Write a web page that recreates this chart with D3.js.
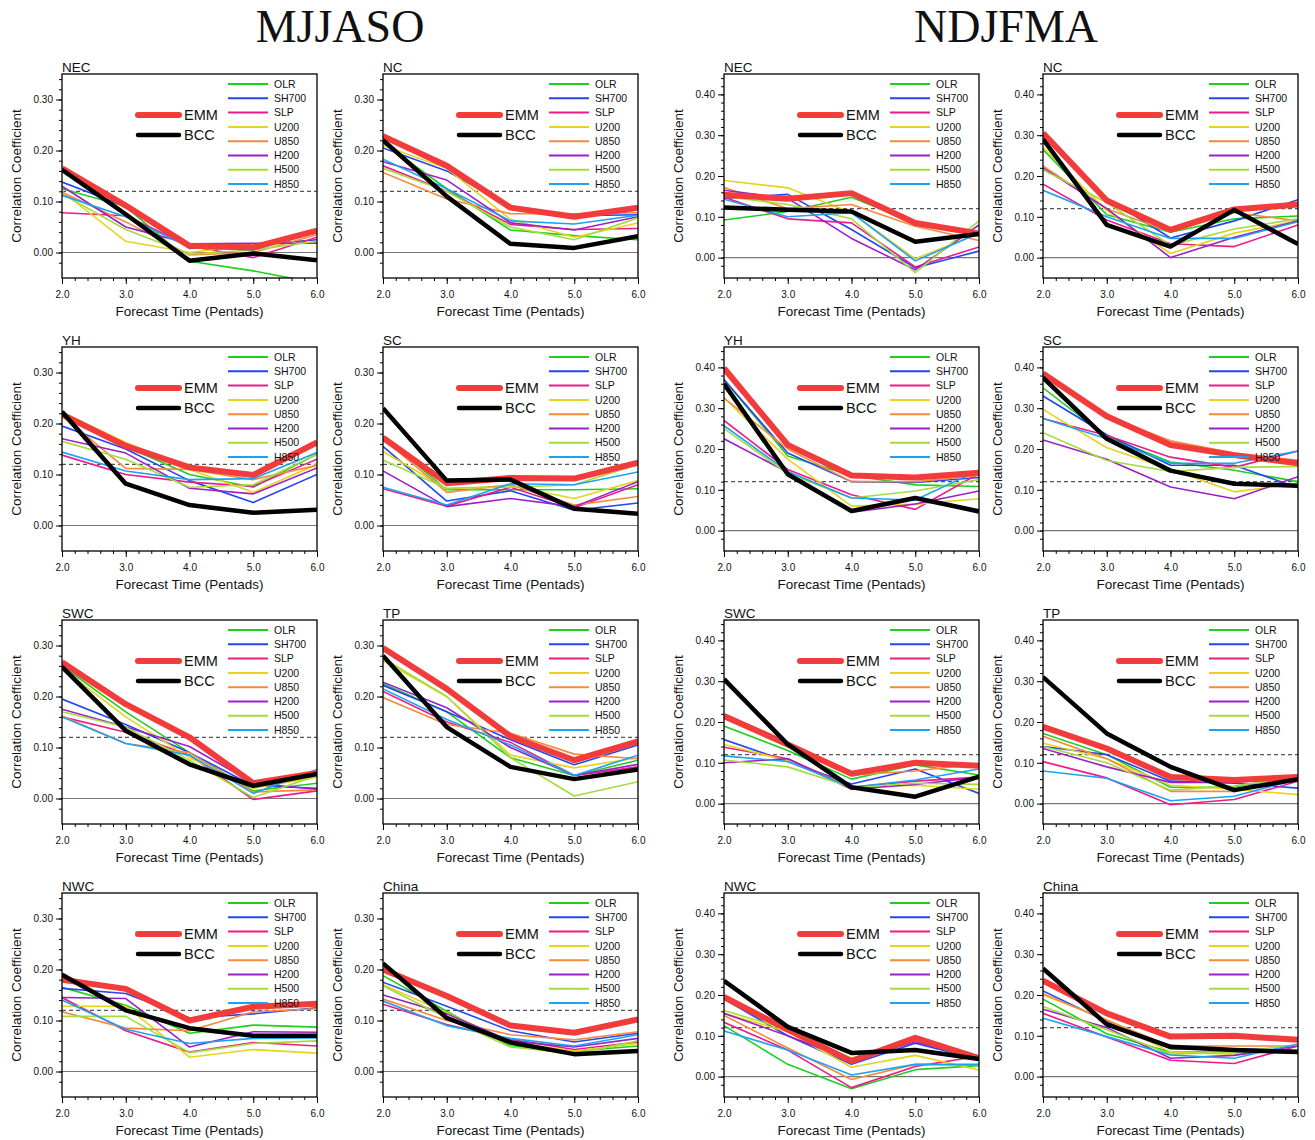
<!DOCTYPE html>
<html>
<head>
<meta charset="utf-8">
<script src="https://cdn.jsdelivr.net/npm/d3@7"></script>
<style>
  body { margin: 0; background: #fff; }
  svg text { font-family: "Liberation Sans", Arial, Helvetica, sans-serif; fill: #111; }
  .season { font-family: "Liberation Serif", "Times New Roman", serif; font-size: 46px; }
</style>
</head>
<body>
<div id="chart"></div>
<script>
(function(d3) {
  "use strict";

  // x values (pentads) and series
  var xVals = [2, 3, 4, 5, 6];
  var seriesNames = ["OLR", "SH700", "SLP", "U200", "U850", "H200", "H500", "H850", "EMM", "BCC"];
  var seriesColors = ["#1fcf1f", "#2346f0", "#ee1a8a", "#e6d31e", "#f58a3c", "#9b20c8", "#a2dd3c", "#1ca2f0", "#f23b3b", "#000000"];
  var seasons = ["MJJASO", "NDJFMA"];
  var regions = ["NEC", "NC", "YH", "SC", "SWC", "TP", "NWC", "China"];
  var yDomains = [[-0.05, 0.35], [-0.05, 0.45]];
  var yTickVals = [[0, 0.1, 0.2, 0.3], [0, 0.1, 0.2, 0.3, 0.4]];
  var threshold = 0.12;

  // rows: OLR, SH700, SLP, U200, U850, H200, H500, H850, EMM, BCC
  var MJJASO_NEC = [
    [0.125, 0.090, -0.017, -0.036, -0.060],
    [0.138, 0.090, 0.008, 0.015, 0.025],
    [0.078, 0.072, 0.013, -0.010, 0.030],
    [0.120, 0.022, 0.000, 0.015, 0.020],
    [0.118, 0.060, -0.005, 0.000, 0.035],
    [0.130, 0.050, 0.017, 0.018, 0.018],
    [0.115, 0.045, -0.003, 0.005, 0.022],
    [0.112, 0.070, 0.010, 0.005, 0.040],
    [0.165, 0.092, 0.013, 0.010, 0.043],
    [0.162, 0.075, -0.016, -0.002, -0.015]
  ];
  var MJJASO_NC = [
    [0.215, 0.125, 0.044, 0.033, 0.025],
    [0.205, 0.160, 0.090, 0.072, 0.074],
    [0.170, 0.120, 0.055, 0.045, 0.047],
    [0.210, 0.165, 0.065, 0.030, 0.058],
    [0.157, 0.105, 0.076, 0.076, 0.078],
    [0.178, 0.142, 0.058, 0.044, 0.070],
    [0.165, 0.120, 0.050, 0.025, 0.068],
    [0.183, 0.125, 0.062, 0.056, 0.073],
    [0.228, 0.170, 0.088, 0.070, 0.088],
    [0.220, 0.110, 0.017, 0.009, 0.032]
  ];
  var MJJASO_YH = [
    [0.220, 0.155, 0.100, 0.075, 0.140],
    [0.195, 0.150, 0.088, 0.045, 0.100],
    [0.138, 0.100, 0.085, 0.077, 0.130],
    [0.222, 0.163, 0.110, 0.065, 0.120],
    [0.215, 0.112, 0.110, 0.090, 0.118],
    [0.170, 0.142, 0.073, 0.062, 0.113],
    [0.165, 0.130, 0.075, 0.080, 0.140],
    [0.144, 0.107, 0.090, 0.092, 0.143],
    [0.218, 0.156, 0.114, 0.099, 0.163],
    [0.223, 0.082, 0.040, 0.025, 0.031]
  ];
  var MJJASO_SC = [
    [0.175, 0.070, 0.070, 0.070, 0.072],
    [0.155, 0.048, 0.068, 0.030, 0.044],
    [0.072, 0.038, 0.075, 0.035, 0.080],
    [0.145, 0.072, 0.078, 0.053, 0.088],
    [0.170, 0.065, 0.080, 0.040, 0.057],
    [0.107, 0.037, 0.053, 0.037, 0.086],
    [0.128, 0.073, 0.075, 0.080, 0.120],
    [0.075, 0.040, 0.082, 0.080, 0.105],
    [0.172, 0.083, 0.093, 0.092, 0.123],
    [0.230, 0.088, 0.090, 0.033, 0.023]
  ];
  var MJJASO_SWC = [
    [0.260, 0.170, 0.090, 0.015, 0.030],
    [0.195, 0.145, 0.090, 0.025, 0.020],
    [0.160, 0.130, 0.085, -0.002, 0.015],
    [0.255, 0.160, 0.080, 0.020, 0.042],
    [0.162, 0.108, 0.090, 0.013, 0.017],
    [0.175, 0.140, 0.102, 0.030, 0.018],
    [0.170, 0.140, 0.075, 0.002, 0.045],
    [0.160, 0.108, 0.085, 0.010, 0.057],
    [0.267, 0.185, 0.120, 0.030, 0.050],
    [0.258, 0.133, 0.067, 0.025, 0.048]
  ];
  var MJJASO_TP = [
    [0.225, 0.170, 0.080, 0.045, 0.075],
    [0.222, 0.170, 0.115, 0.066, 0.105],
    [0.210, 0.150, 0.110, 0.045, 0.062],
    [0.270, 0.200, 0.085, 0.060, 0.080],
    [0.198, 0.145, 0.128, 0.087, 0.078],
    [0.228, 0.178, 0.100, 0.045, 0.067],
    [0.275, 0.200, 0.080, 0.005, 0.033],
    [0.215, 0.155, 0.105, 0.045, 0.085],
    [0.295, 0.215, 0.122, 0.075, 0.112],
    [0.280, 0.140, 0.062, 0.038, 0.057]
  ];
  var MJJASO_NWC = [
    [0.165, 0.130, 0.075, 0.091, 0.087],
    [0.163, 0.153, 0.105, 0.113, 0.125],
    [0.145, 0.080, 0.038, 0.057, 0.050],
    [0.128, 0.128, 0.028, 0.043, 0.036],
    [0.117, 0.085, 0.080, 0.117, 0.123],
    [0.145, 0.143, 0.048, 0.078, 0.077],
    [0.108, 0.108, 0.037, 0.055, 0.060],
    [0.140, 0.083, 0.055, 0.065, 0.066],
    [0.180, 0.162, 0.100, 0.127, 0.133],
    [0.190, 0.120, 0.085, 0.070, 0.070]
  ];
  var MJJASO_China = [
    [0.188, 0.118, 0.050, 0.040, 0.050],
    [0.175, 0.128, 0.080, 0.058, 0.075],
    [0.132, 0.092, 0.063, 0.043, 0.058],
    [0.170, 0.115, 0.058, 0.040, 0.055],
    [0.142, 0.100, 0.072, 0.062, 0.078],
    [0.150, 0.113, 0.060, 0.048, 0.065],
    [0.168, 0.105, 0.048, 0.035, 0.060],
    [0.138, 0.090, 0.065, 0.050, 0.072],
    [0.200, 0.148, 0.090, 0.076, 0.102],
    [0.212, 0.105, 0.057, 0.034, 0.040]
  ];
  var NDJFMA_NEC = [
    [0.092, 0.113, 0.148, 0.085, 0.056],
    [0.145, 0.155, 0.069, -0.025, 0.016],
    [0.148, 0.095, 0.085, -0.023, 0.026],
    [0.189, 0.171, 0.110, -0.003, 0.060],
    [0.172, 0.120, 0.130, 0.077, 0.042],
    [0.165, 0.145, 0.047, -0.030, 0.080],
    [0.150, 0.130, 0.095, -0.037, 0.090],
    [0.143, 0.100, 0.110, -0.008, 0.060],
    [0.154, 0.144, 0.158, 0.085, 0.059],
    [0.123, 0.117, 0.113, 0.039, 0.058]
  ];
  var NDJFMA_NC = [
    [0.265, 0.105, 0.062, 0.095, 0.102],
    [0.298, 0.145, 0.048, 0.090, 0.142],
    [0.180, 0.092, 0.034, 0.027, 0.080],
    [0.270, 0.115, 0.010, 0.060, 0.090],
    [0.225, 0.120, 0.063, 0.110, 0.090],
    [0.220, 0.120, 0.000, 0.050, 0.090],
    [0.215, 0.135, 0.030, 0.070, 0.095],
    [0.165, 0.100, 0.047, 0.047, 0.088],
    [0.305, 0.140, 0.068, 0.118, 0.130],
    [0.290, 0.080, 0.027, 0.117, 0.033]
  ];
  var NDJFMA_YH = [
    [0.370, 0.183, 0.135, 0.112, 0.108],
    [0.370, 0.190, 0.120, 0.118, 0.130],
    [0.270, 0.150, 0.088, 0.052, 0.140],
    [0.325, 0.175, 0.060, 0.065, 0.078],
    [0.325, 0.200, 0.120, 0.120, 0.135],
    [0.225, 0.143, 0.045, 0.065, 0.097],
    [0.250, 0.140, 0.080, 0.097, 0.125],
    [0.257, 0.145, 0.080, 0.075, 0.148],
    [0.398, 0.210, 0.135, 0.130, 0.142],
    [0.360, 0.138, 0.048, 0.080, 0.047]
  ];
  var NDJFMA_SC = [
    [0.350, 0.230, 0.168, 0.148, 0.120],
    [0.330, 0.235, 0.160, 0.160, 0.105],
    [0.275, 0.233, 0.180, 0.155, 0.195],
    [0.297, 0.203, 0.150, 0.095, 0.115],
    [0.380, 0.280, 0.220, 0.190, 0.172],
    [0.222, 0.175, 0.107, 0.078, 0.132],
    [0.240, 0.172, 0.145, 0.155, 0.157],
    [0.275, 0.225, 0.165, 0.165, 0.195],
    [0.385, 0.280, 0.210, 0.185, 0.165],
    [0.375, 0.225, 0.147, 0.115, 0.110]
  ];
  var NDJFMA_SWC = [
    [0.190, 0.130, 0.060, 0.095, 0.070],
    [0.157, 0.103, 0.048, 0.085, 0.025],
    [0.138, 0.110, 0.040, 0.055, 0.065],
    [0.145, 0.105, 0.040, 0.045, 0.035],
    [0.208, 0.140, 0.070, 0.080, 0.098],
    [0.100, 0.110, 0.035, 0.047, 0.065],
    [0.107, 0.090, 0.040, 0.050, 0.047],
    [0.117, 0.103, 0.040, 0.058, 0.085],
    [0.215, 0.145, 0.073, 0.100, 0.093],
    [0.305, 0.145, 0.040, 0.017, 0.066]
  ];
  var NDJFMA_TP = [
    [0.172, 0.120, 0.040, 0.040, 0.070],
    [0.140, 0.120, 0.055, 0.050, 0.038],
    [0.103, 0.063, -0.003, 0.010, 0.055],
    [0.148, 0.110, 0.045, 0.035, 0.022],
    [0.165, 0.110, 0.030, 0.030, 0.065],
    [0.135, 0.090, 0.052, 0.052, 0.065],
    [0.140, 0.100, 0.033, 0.043, 0.065],
    [0.080, 0.062, 0.007, 0.018, 0.060],
    [0.188, 0.135, 0.065, 0.058, 0.065],
    [0.310, 0.172, 0.090, 0.033, 0.060]
  ];
  var NDJFMA_NWC = [
    [0.125, 0.030, -0.030, 0.017, 0.027],
    [0.190, 0.100, 0.030, 0.082, 0.042],
    [0.133, 0.065, -0.027, 0.025, 0.050],
    [0.155, 0.110, 0.023, 0.052, 0.016],
    [0.150, 0.070, -0.007, 0.030, 0.028],
    [0.155, 0.100, 0.040, 0.085, 0.048],
    [0.162, 0.115, 0.045, 0.090, 0.050],
    [0.112, 0.065, 0.004, 0.030, 0.030],
    [0.195, 0.115, 0.038, 0.095, 0.045],
    [0.235, 0.122, 0.058, 0.065, 0.043]
  ];
  var NDJFMA_China = [
    [0.190, 0.105, 0.060, 0.060, 0.060],
    [0.210, 0.135, 0.068, 0.068, 0.065],
    [0.155, 0.097, 0.040, 0.032, 0.075],
    [0.200, 0.140, 0.060, 0.055, 0.065],
    [0.203, 0.138, 0.075, 0.075, 0.075],
    [0.165, 0.120, 0.045, 0.052, 0.075],
    [0.172, 0.115, 0.055, 0.060, 0.078],
    [0.143, 0.098, 0.053, 0.045, 0.080],
    [0.235, 0.155, 0.098, 0.100, 0.090],
    [0.265, 0.128, 0.073, 0.065, 0.060]
  ];

  var panelData = {
    MJJASO: { NEC: MJJASO_NEC, NC: MJJASO_NC, YH: MJJASO_YH, SC: MJJASO_SC,
              SWC: MJJASO_SWC, TP: MJJASO_TP, NWC: MJJASO_NWC, China: MJJASO_China },
    NDJFMA: { NEC: NDJFMA_NEC, NC: NDJFMA_NC, YH: NDJFMA_YH, SC: NDJFMA_SC,
              SWC: NDJFMA_SWC, TP: NDJFMA_TP, NWC: NDJFMA_NWC, China: NDJFMA_China }
  };

  // layout
  var W = 1315, H = 1140;
  var colLeft = [62, 383, 724, 1043];
  var rowTop = [74, 347, 620, 893];
  var pw = 255, ph = 204;

  var svg = d3.select("#chart").append("svg")
    .attr("width", W)
    .attr("height", H);

  // titres des saisons
  svg.append("text").attr("class", "season")
    .attr("x", 340).attr("y", 42).attr("text-anchor", "middle").text("MJJASO");
  svg.append("text").attr("class", "season")
    .attr("x", 1006).attr("y", 42).attr("text-anchor", "middle").text("NDJFMA");

  var x = d3.scaleLinear().domain([2, 6]).range([0, pw]);

  seasons.forEach(function(season, si) {
    regions.forEach(function(region, ri) {
      var col = si * 2 + (ri % 2);
      var row = Math.floor(ri / 2);
      var data = panelData[season][region];
      var y = d3.scaleLinear().domain(yDomains[si]).range([ph, 0]);
      var clipId = "clip-" + season + "-" + region;

      var g = svg.append("g")
        .attr("transform", `translate(${colLeft[col]},${rowTop[row]})`);

      g.append("clipPath").attr("id", clipId)
        .append("rect").attr("width", pw).attr("height", ph);

      // axes: minor ticks then major
      var yMinor = d3.range(Math.round(yDomains[si][0] * 50 + 1), Math.round(yDomains[si][1] * 50))
        .map(function(k) { return k / 50; });
      g.append("g")
        .call(d3.axisLeft(y).tickValues(yMinor).tickSize(3).tickFormat(""))
        .call(function(a) { a.select(".domain").remove(); a.selectAll("line").attr("stroke-width", 1); });
      g.append("g")
        .call(d3.axisLeft(y).tickValues(yTickVals[si]).tickSize(6).tickPadding(3).tickFormat(d3.format(".2f")))
        .call(function(a) {
          a.select(".domain").remove();
          a.selectAll("text").attr("font-size", 10).attr("font-family", "Liberation Sans, Arial, sans-serif");
        });

      var xMinor = d3.range(11, 30).map(function(k) { return k / 5; });
      g.append("g").attr("transform", `translate(0,${ph})`)
        .call(d3.axisBottom(x).tickValues(xMinor).tickSize(3).tickFormat(""))
        .call(function(a) { a.select(".domain").remove(); });
      g.append("g").attr("transform", `translate(0,${ph})`)
        .call(d3.axisBottom(x).tickValues(xVals).tickSize(6).tickPadding(7).tickFormat(d3.format(".1f")))
        .call(function(a) {
          a.select(".domain").remove();
          a.selectAll("text").attr("font-size", 10).attr("font-family", "Liberation Sans, Arial, sans-serif");
        });

      // zero line and significance line
      g.append("line")
        .attr("x1", 0).attr("x2", pw).attr("y1", y(0)).attr("y2", y(0))
        .attr("stroke", "#777").attr("stroke-width", 1.2);
      g.append("line")
        .attr("x1", 0).attr("x2", pw).attr("y1", y(threshold)).attr("y2", y(threshold))
        .attr("stroke", "#555").attr("stroke-width", 1.2).attr("stroke-dasharray", "4,3");

      var line = d3.line()
        .x(function(d, i) { return x(xVals[i]); })
        .y(function(d) { return y(d); });

      g.append("g").attr("clip-path", `url(#${clipId})`)
        .selectAll("path")
        .data(data)
        .enter().append("path")
        .attr("fill", "none")
        .attr("stroke", function(d, i) { return seriesColors[i]; })
        .attr("stroke-width", function(d, i) { return i === 8 ? 6 : (i === 9 ? 4.5 : 1.6); })
        .attr("stroke-linejoin", "round")
        .attr("d", line);

      // cadre
      g.append("rect")
        .attr("width", pw).attr("height", ph)
        .attr("fill", "none").attr("stroke", "#000").attr("stroke-width", 1.3);

      // légende EMM / BCC
      [8, 9].forEach(function(si2, k) {
        var ly = 41 + k * 20;
        g.append("line")
          .attr("x1", 76).attr("x2", 117).attr("y1", ly).attr("y2", ly)
          .attr("stroke", seriesColors[si2]).attr("stroke-width", si2 === 8 ? 6 : 4.5)
          .attr("stroke-linecap", "round");
        g.append("text")
          .attr("x", 122).attr("y", ly + 5)
          .attr("font-size", 14.5)
          .text(seriesNames[si2]);
      });

      // légende des variables
      seriesNames.slice(0, 8).forEach(function(name, k) {
        var ly = 10 + k * 14.3;
        g.append("line")
          .attr("x1", 166).attr("x2", 206).attr("y1", ly).attr("y2", ly)
          .attr("stroke", seriesColors[k]).attr("stroke-width", 2);
        g.append("text")
          .attr("x", 212).attr("y", ly + 3.6)
          .attr("font-size", 10.5)
          .text(name);
      });

      // titre du panneau
      g.append("text")
        .attr("x", 0).attr("y", -2)
        .attr("font-size", 13.5)
        .text(region);

      // titres des axes
      g.append("text")
        .attr("x", pw / 2).attr("y", ph + 38)
        .attr("text-anchor", "middle")
        .attr("font-size", 13.5)
        .text("Forecast Time (Pentads)");
      g.append("text")
        .attr("transform", `translate(${-41},${ph / 2}) rotate(-90)`)
        .attr("text-anchor", "middle")
        .attr("font-size", 13.5)
        .text("Correlation Coefficient");
    });
  });

})(d3);
</script>
</body>
</html>
